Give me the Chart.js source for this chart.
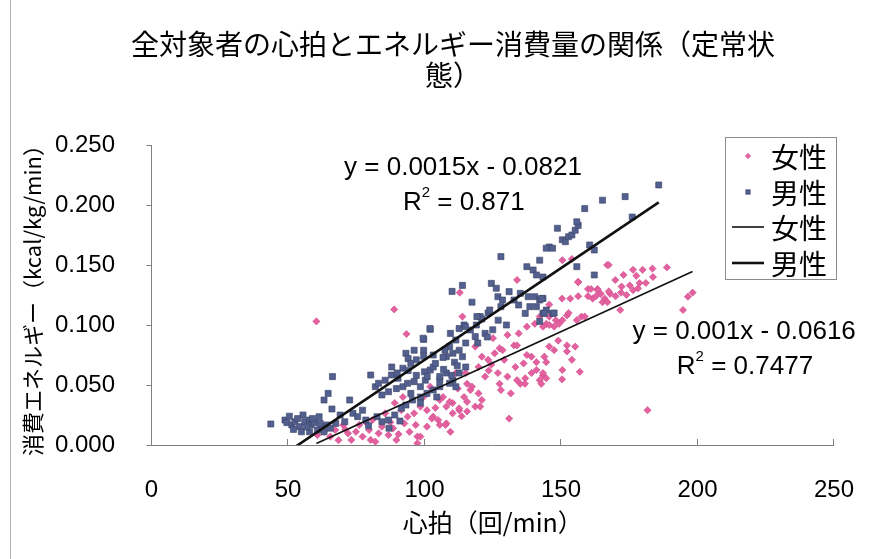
<!DOCTYPE html>
<html>
<head>
<meta charset="utf-8">
<script src="https://cdn.jsdelivr.net/npm/chart.js@4/dist/chart.umd.min.js"></script>
<style>
  html, body { margin: 0; padding: 0; background: #fff; }
  #wrap { width: 891px; height: 559px; }
</style>
</head>
<body>
<div id="wrap"><canvas id="c" width="891" height="559"></canvas></div>
<script>
// ---- text ----
const titleLines = ['全対象者の心拍とエネルギー消費量の関係（定常状', '態）'];
const xAxisTitle = '心拍（回/min）';
const yAxisTitle = '消費エネルギー（kcal/kg/min）';
const seriesNames = ['女性', '男性'];

// ---- axis ticks ----
const xTicks = [0, 50, 100, 150, 200, 250];
const yTicks = [0, 0.05, 0.10, 0.15, 0.20, 0.25];

// ---- 女性: heart rate (beats/min) and energy expenditure (kcal/kg/min) ----
const femaleHR = [
  60.4, 88.9, 93.4, 113.9, 112.9, 60.8, 63.2, 65.5, 67.3, 70.2,
  72.0, 73.2, 74.9, 76.1, 77.3, 79.7, 80.3, 82.0, 83.2, 84.4,
  85.6, 86.8, 88.5, 89.7, 89.1, 91.5, 92.6, 93.8, 96.2, 96.8,
  97.4, 98.5, 100.9, 103.2, 105.6, 108.0, 110.3, 112.7, 114.5, 115.6,
  109.2, 106.8, 105.0, 99.7, 102.1, 92.1, 98.5, 100.9, 97.4, 115.1,
  115.6, 111.5, 107.7, 68.5, 71.0, 78.5, 81.0, 87.5, 94.5, 90.5,
  116.8, 119.8, 121.0, 118.6, 115.6, 112.7, 110.3, 108.0, 105.6, 131.6,
  128.0, 135.1, 142.2, 119.8, 123.3, 125.7, 122.2, 126.9, 130.4, 133.9,
  136.9, 139.2, 143.4, 129.2, 133.3, 136.3, 139.2, 141.0, 144.6, 147.5,
  152.2, 155.2, 154.0, 150.5, 134.5, 137.5, 140.4, 130.4, 132.8, 127.5,
  142.2, 144.6, 147.5, 150.5, 152.2, 157.5, 133.9, 150.5, 154.0, 156.3,
  159.9, 163.4, 166.9, 145.7, 143.4, 125.1, 128.6, 133.9, 137.5, 141.0,
  145.7, 143.9, 127.5, 136.8, 112.2, 117.4, 120.4, 113.6, 104.0, 102.7,
  109.5, 131.0, 118.6, 121.0, 123.5, 124.5, 152.8, 148.1, 145.7, 145.7,
  149.3, 155.8, 158.7, 152.2, 149.0, 143.4, 144.6, 142.8, 150.4, 156.9,
  188.8, 183.5, 183.7, 179.9, 181.1, 176.4, 177.6, 172.9, 169.9, 172.2,
  175.2, 176.4, 178.2, 178.8, 167.5, 166.0, 168.0, 170.0, 172.0, 174.0,
  167.5, 165.2, 167.0, 163.4, 164.6, 161.0, 161.6, 162.8, 159.9, 156.3,
  153.4, 150.4, 156.3, 171.7, 196.5, 198.2, 194.7, 181.7
];
const femaleEE = [
  0.103, 0.113, 0.0925, 0.107, 0.127, 0.0083, 0.011, 0.007, 0.0125, 0.0167,
  0.0097, 0.0042, 0.011, 0.0167, 0.007, 0.0125, 0.0042, 0.0028, 0.0097, 0.0153,
  0.0264, 0.0083, 0.0139, 0.0042, 0.035, 0.029, 0.018, 0.0236, 0.0264, 0.0167,
  0.007, 0.032, 0.029, 0.0236, 0.0167, 0.018, 0.035, 0.029, 0.040, 0.028,
  0.036, 0.040, 0.0208, 0.040, 0.0486, 0.040, 0.007, 0.0153, 0.0014, 0.060,
  0.051, 0.060, 0.0167, 0.004, 0.013, 0.019, 0.021, 0.019, 0.011, 0.009,
  0.0458, 0.043, 0.0375, 0.032, 0.036, 0.0306, 0.0264, 0.032, 0.0375, 0.043,
  0.0458, 0.051, 0.054, 0.065, 0.071, 0.0764, 0.057, 0.060, 0.057, 0.054,
  0.0556, 0.060, 0.058, 0.071, 0.065, 0.068, 0.0736, 0.0625, 0.069, 0.079,
  0.083, 0.082, 0.071, 0.0625, 0.093, 0.0986, 0.101, 0.0917, 0.083, 0.0806,
  0.107, 0.101, 0.0986, 0.104, 0.108, 0.107, 0.1375, 0.154, 0.155, 0.136,
  0.130, 0.130, 0.150, 0.117, 0.0986, 0.089, 0.079, 0.083, 0.075, 0.069,
  0.082, 0.0736, 0.051, 0.051, 0.047, 0.0486, 0.032, 0.024, 0.031, 0.022,
  0.011, 0.022, 0.082, 0.0736, 0.062, 0.067, 0.110, 0.104, 0.107, 0.100,
  0.101, 0.104, 0.107, 0.078, 0.087, 0.060, 0.0556, 0.051, 0.0547, 0.061,
  0.148, 0.147, 0.140, 0.146, 0.135, 0.146, 0.141, 0.1417, 0.1375, 0.132,
  0.133, 0.129, 0.1306, 0.135, 0.150, 0.122, 0.126, 0.124, 0.127, 0.125,
  0.128, 0.119, 0.119, 0.129, 0.126, 0.130, 0.122, 0.124, 0.124, 0.124,
  0.122, 0.122, 0.1356, 0.1125, 0.1236, 0.127, 0.1125, 0.029
];

// ---- 男性 ----
const maleHR = [
  43.7, 48.9, 49.6, 51.4, 52.5, 54.3, 55.5, 56.1, 57.9, 58.4,
  59.6, 61.4, 60.8, 62.6, 64.3, 54.9, 57.9, 63.2, 50.5, 53.5,
  56.8, 59.0, 61.8, 65.5, 52.0, 67.5, 66.3, 64.7, 63.2, 66.1,
  69.1, 70.8, 72.6, 73.8, 75.5, 77.3, 78.5, 80.3, 82.0, 83.2,
  85.6, 84.4, 86.8, 87.9, 90.3, 92.1, 89.7, 92.1, 93.8, 96.2,
  98.5, 95.0, 98.5, 100.9, 103.2, 105.6, 104.5, 82.6, 84.4, 86.8,
  89.1, 91.5, 93.2, 95.6, 98.5, 100.3, 102.1, 93.2, 96.2, 99.7,
  102.1, 99.7, 79.5, 87.0, 91.0, 103.2, 105.6, 108.0, 110.4, 112.7,
  115.1, 105.6, 109.2, 111.5, 112.7, 111.5, 109.2, 110.4, 112.7, 115.1,
  113.9, 108.0, 110.1, 113.9, 117.4, 109.5, 114.5, 116.8, 120.4, 123.3,
  118.6, 122.2, 102.0, 99.5, 115.0, 94.0, 97.0, 99.7, 103.2, 106.8,
  107.5, 111.0, 88.0, 90.0, 94.0, 97.0, 100.0, 104.0, 107.0, 110.0,
  112.0, 95.0, 101.0, 124.5, 126.3, 126.9, 128.6, 128.0, 131.0, 132.8,
  135.1, 134.5, 138.0, 138.6, 136.9, 140.4, 142.2, 141.0, 143.4, 144.6,
  146.9, 143.4, 137.5, 139.8, 142.2, 145.7, 146.9, 141.0, 143.4, 119.0,
  121.0, 123.0, 125.0, 127.0, 130.0, 119.5, 128.0, 142.8, 143.9, 147.5,
  142.2, 148.7, 150.5, 151.6, 152.8, 154.0, 155.2, 156.3, 155.8, 158.7,
  165.2, 173.5, 185.8, 176.1, 160.5, 162.2, 155.8, 162.2, 144.6, 119.2,
  123.9
];
const maleEE = [
  0.0175, 0.0208, 0.0186, 0.0167, 0.0194, 0.0153, 0.025, 0.0194, 0.0208, 0.0167,
  0.0186, 0.0236, 0.0125, 0.0153, 0.0167, 0.011, 0.011, 0.011, 0.024, 0.022,
  0.015, 0.022, 0.018, 0.014, 0.013, 0.018, 0.057, 0.043, 0.0375, 0.030,
  0.025, 0.0194, 0.0375, 0.0264, 0.0236, 0.029, 0.0208, 0.0583, 0.0486, 0.0514,
  0.054, 0.0417, 0.0444, 0.0583, 0.0556, 0.064, 0.047, 0.0486, 0.0514, 0.0528,
  0.0486, 0.043, 0.040, 0.043, 0.0458, 0.054, 0.040, 0.0236, 0.0194, 0.0208,
  0.025, 0.0306, 0.0333, 0.0375, 0.035, 0.054, 0.0625, 0.0764, 0.079, 0.079,
  0.0964, 0.088, 0.016, 0.014, 0.020, 0.065, 0.057, 0.060, 0.054, 0.060,
  0.065, 0.0486, 0.0514, 0.0486, 0.097, 0.0875, 0.082, 0.0764, 0.079, 0.085,
  0.0736, 0.0736, 0.128, 0.133, 0.119, 0.093, 0.100, 0.0958, 0.107, 0.110,
  0.0903, 0.093, 0.097, 0.089, 0.0986, 0.072, 0.071, 0.074, 0.075, 0.073,
  0.079, 0.069, 0.065, 0.060, 0.062, 0.058, 0.061, 0.068, 0.063, 0.058,
  0.066, 0.068, 0.057, 0.1347, 0.1306, 0.1236, 0.1208, 0.1153, 0.1278, 0.1208,
  0.1264, 0.1167, 0.1236, 0.1153, 0.1097, 0.1236, 0.1208, 0.1153, 0.1097, 0.1125,
  0.1097, 0.1222, 0.1486, 0.1458, 0.154, 0.165, 0.164, 0.1417, 0.140, 0.100,
  0.105, 0.090, 0.096, 0.104, 0.100, 0.085, 0.157, 0.122, 0.110, 0.110,
  0.103, 0.1806, 0.171, 0.1694, 0.1736, 0.175, 0.179, 0.183, 0.186, 0.197,
  0.204, 0.207, 0.2167, 0.190, 0.1667, 0.1625, 0.1486, 0.1417, 0.164, 0.107,
  0.1125
];

// ---- linear trend lines [女性, 男性] ----
const fitSlope = [0.00104, 0.00153];
const fitIntercept = [-0.0616, -0.0821];
const fitR2 = [0.7477, 0.871];

// ---- helpers ----
const toPoints = (xs, ys) => xs.map((x, i) => ({ x: x, y: ys[i] }));
function trendPoints(xs, k) {
  const lo = Math.min(...xs), hi = Math.max(...xs);
  return [
    { x: lo, y: fitSlope[k] * lo + fitIntercept[k] },
    { x: hi, y: fitSlope[k] * hi + fitIntercept[k] }
  ];
}
const fmt4 = v => String(Number(v.toFixed(4)));

const LATIN = "'Liberation Sans', Arial, sans-serif";
const CJK = "'Noto Sans CJK JP', 'Noto Sans CJK SC', sans-serif";

// background, outer frame and heading
const headingPlugin = {
  id: 'heading',
  beforeDraw(chart) {
    const c = chart.ctx;
    c.save();
    c.fillStyle = '#ffffff';
    c.fillRect(0, 0, chart.width, chart.height);
    c.strokeStyle = '#b4b4b4';
    c.lineWidth = 1;
    c.beginPath();
    c.moveTo(10.5, 0);
    c.lineTo(10.5, chart.height);
    c.stroke();
    c.fillStyle = '#000';
    c.font = '28px ' + CJK;
    c.textAlign = 'center';
    c.textBaseline = 'middle';
    c.fillText(titleLines[0], 453, 44);
    c.fillText(titleLines[1], 453, 75);
    c.restore();
  }
};

// regression equations next to the trend lines
const fitLabelAnchors = [
  { eq: [217.1, 0.0942], r2: [217.4, 0.065] },
  { eq: [114.1, 0.2313], r2: [114.4, 0.2017] }
];
const fitLabelPlugin = {
  id: 'fitLabels',
  afterDatasetsDraw(chart) {
    const c = chart.ctx, xs = chart.scales.x, ys = chart.scales.y;
    c.save();
    c.fillStyle = '#000';
    c.textBaseline = 'middle';
    for (let k = 0; k < 2; k++) {
      const a = fitLabelAnchors[k];
      const eq = 'y = ' + fmt4(fitSlope[k]) + 'x - ' + fmt4(-fitIntercept[k]);
      c.font = '26px ' + LATIN;
      c.textAlign = 'center';
      c.fillText(eq, xs.getPixelForValue(a.eq[0]), ys.getPixelForValue(a.eq[1]));
      // R² with raised exponent
      const rest = ' = ' + fmt4(fitR2[k]);
      c.font = '26px ' + LATIN;
      const wR = c.measureText('R').width, wRest = c.measureText(rest).width;
      c.font = '15px ' + LATIN;
      const w2 = c.measureText('2').width;
      const cx = xs.getPixelForValue(a.r2[0]), cy = ys.getPixelForValue(a.r2[1]);
      let x0 = cx - (wR + w2 + wRest) / 2;
      c.textAlign = 'left';
      c.font = '26px ' + LATIN;
      c.fillText('R', x0, cy);
      c.font = '15px ' + LATIN;
      c.fillText('2', x0 + wR, cy - 10);
      c.font = '26px ' + LATIN;
      c.fillText(rest, x0 + wR + w2, cy);
    }
    c.restore();
  }
};

// boxed legend inside the plot
const legendPlugin = {
  id: 'boxLegend',
  afterDraw(chart) {
    const c = chart.ctx;
    const box = { x: 725.5, y: 137.5, w: 111, h: 142 };
    const rows = [156, 192, 227, 263];
    c.save();
    c.fillStyle = '#ffffff';
    c.fillRect(box.x, box.y, box.w, box.h);
    c.strokeStyle = '#8c8c8c';
    c.lineWidth = 1;
    c.strokeRect(box.x, box.y, box.w, box.h);
    chart.data.datasets.forEach((ds, i) => {
      const cy = rows[i];
      if (ds.type === 'scatter') {
        c.fillStyle = ds.backgroundColor;
        c.strokeStyle = ds.borderColor;
        c.lineWidth = ds.borderWidth;
        const r = ds.pointRadius * 0.75;
        c.beginPath();
        if (ds.pointStyle === 'rect') {
          const s = r * Math.SQRT1_2;
          c.rect(748 - s, cy - s, 2 * s, 2 * s);
        } else {
          c.moveTo(748, cy - r); c.lineTo(748 + r, cy); c.lineTo(748, cy + r); c.lineTo(748 - r, cy); c.closePath();
        }
        c.fill(); c.stroke();
      } else {
        c.strokeStyle = ds.borderColor;
        c.lineWidth = ds.borderWidth;
        c.beginPath();
        c.moveTo(732, cy); c.lineTo(764, cy);
        c.stroke();
      }
      c.fillStyle = '#000';
      c.font = '28px ' + CJK;
      c.textAlign = 'left';
      c.textBaseline = 'middle';
      c.fillText(ds.label, 771, cy + 1);
    });
    c.restore();
  }
};

new Chart(document.getElementById('c'), {
  data: {
    datasets: [
      {
        type: 'scatter', label: seriesNames[0], order: 4,
        data: toPoints(femaleHR, femaleEE),
        pointStyle: 'rectRot', pointRadius: 3.6,
        backgroundColor: '#e4619f', borderColor: '#cf4a8b', borderWidth: 0.6
      },
      {
        type: 'scatter', label: seriesNames[1], order: 3,
        data: toPoints(maleHR, maleEE),
        pointStyle: 'rect', pointRadius: 4.3,
        backgroundColor: '#53608f', borderColor: '#3b4468', borderWidth: 0.6
      },
      {
        type: 'line', label: seriesNames[0], order: 2,
        data: trendPoints(femaleHR, 0),
        borderColor: '#111', borderWidth: 1.6, pointRadius: 0, fill: false
      },
      {
        type: 'line', label: seriesNames[1], order: 1,
        data: trendPoints(maleHR, 1),
        borderColor: '#111', borderWidth: 2.6, pointRadius: 0, fill: false
      }
    ]
  },
  options: {
    responsive: false,
    animation: false,
    devicePixelRatio: 1,
    layout: { padding: { left: 10, top: 145, right: 33, bottom: 0 } },
    plugins: {
      legend: { display: false },
      title: { display: false },
      tooltip: { enabled: false }
    },
    scales: {
      x: {
        type: 'linear', min: 0, max: 250,
        afterBuildTicks: s => { s.ticks = xTicks.map(v => ({ value: v })); },
        afterFit: s => { s.height = 114; },
        ticks: { color: '#000', font: { family: LATIN, size: 24 }, padding: 37, maxRotation: 0 },
        grid: { drawOnChartArea: false, drawTicks: true, tickLength: -6, color: '#808080' },
        border: { display: true, color: '#808080', width: 1 },
        title: { display: true, text: xAxisTitle, color: '#000', font: { family: CJK, size: 25 }, padding: { top: 0, bottom: 22 } }
      },
      y: {
        type: 'linear', min: 0, max: 0.25,
        afterBuildTicks: s => { s.ticks = yTicks.map(v => ({ value: v })); },
        afterFit: s => { s.width = 141.5; },
        ticks: { color: '#000', font: { family: LATIN, size: 24 }, padding: 31.5, callback: v => v.toFixed(3) },
        grid: { drawOnChartArea: false, drawTicks: true, tickLength: 5, color: '#808080' },
        border: { display: true, color: '#808080', width: 1 },
        title: { display: true, text: yAxisTitle, color: '#000', font: { family: CJK, size: 22 }, padding: { top: 9, bottom: 0 } }
      }
    }
  },
  plugins: [headingPlugin, fitLabelPlugin, legendPlugin]
});
</script>
</body>
</html>
